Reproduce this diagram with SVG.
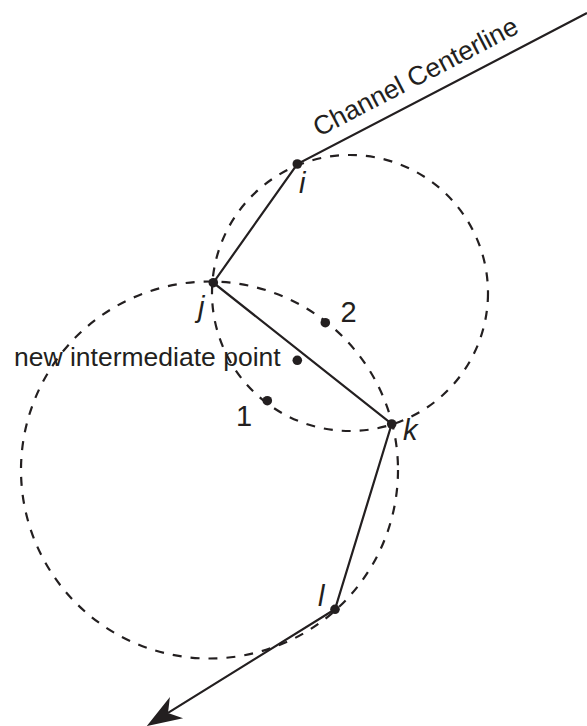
<svg xmlns="http://www.w3.org/2000/svg" width="587" height="726" viewBox="0 0 587 726">
<style>
.ln{fill:none;stroke:#231f20;stroke-width:2.2}
.dash{fill:none;stroke:#231f20;stroke-width:2.2;stroke-dasharray:9 9}
.pt{fill:#231f20}
text{font-family:"Liberation Sans",Arial,sans-serif;font-size:26.5px;fill:#231f20}
.big{font-size:29px}
.it{font-style:italic;font-size:29px}
</style>
<defs>
<marker id="ah" markerUnits="userSpaceOnUse" markerWidth="40" markerHeight="30" viewBox="-10 -12 32 24" refX="0" refY="0" orient="auto" overflow="visible">
<path d="M20,0 L-8,-10 L0,0 L-8,10 Z" fill="#231f20"/>
</marker>
</defs>
<g id="circles">
<circle class="dash" cx="350" cy="293" r="138"/>
<circle class="dash" cx="209.5" cy="470" r="188.5"/>
</g>
<g id="connectors">
<path class="ln" d="M587,13 L297.3,164 L213.3,282.7 L391.7,424 L335,609.3 L168,712.9" marker-end="url(#ah)"/>
</g>
<g id="label-centerline">
<text transform="translate(319,137) rotate(-27.5)">Channel Centerline</text>
</g>
<g id="node-i"><circle class="pt" cx="297.3" cy="164" r="4.8"/><text class="it" x="299" y="193">i</text></g>
<g id="node-j"><circle class="pt" cx="213.3" cy="282.7" r="4.8"/><text class="it" x="198" y="317">j</text></g>
<g id="node-k"><circle class="pt" cx="391.7" cy="424" r="4.8"/><text class="it" x="403" y="440">k</text></g>
<g id="node-l"><circle class="pt" cx="335" cy="609.3" r="4.8"/><text class="it" x="318" y="606">l</text></g>
<g id="node-2"><circle class="pt" cx="325.3" cy="322.7" r="4.8"/><text class="big" x="340.5" y="321.5">2</text></g>
<g id="node-new"><circle class="pt" cx="297.3" cy="360.3" r="4.8"/><text x="14" y="366">new intermediate point</text></g>
<g id="node-1"><circle class="pt" cx="267.3" cy="400.7" r="4.8"/><text class="big" x="236" y="426">1</text></g>
</svg>
